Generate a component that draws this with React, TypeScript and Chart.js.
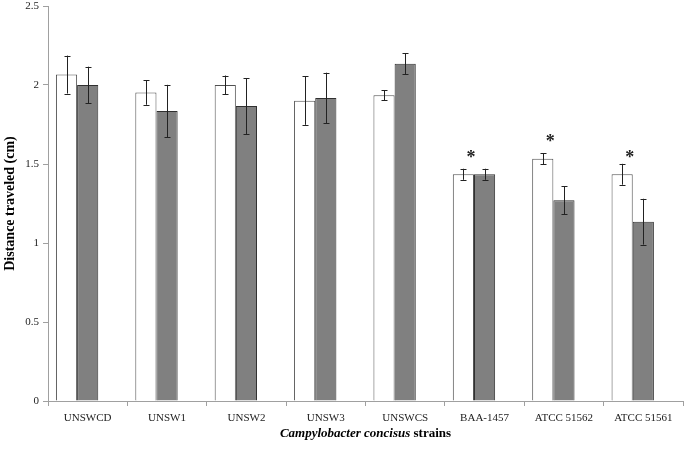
import React, { useEffect, useRef } from "react";
import { Chart, registerables } from "chart.js";

Chart.register(...registerables);

const categories = ["UNSWCD", "UNSW1", "UNSW2", "UNSW3", "UNSWCS", "BAA-1457", "ATCC 51562", "ATCC 51561"];
const whiteValues = [2.066, 1.952, 2.0, 1.901, 1.935, 1.435, 1.534, 1.435];
const whiteErrors = [0.12, 0.077, 0.06, 0.153, 0.033, 0.035, 0.034, 0.066];
const grayValues = [2.0, 1.835, 1.867, 1.918, 2.135, 1.435, 1.27, 1.135];
const grayErrors = [0.116, 0.166, 0.177, 0.16, 0.067, 0.035, 0.088, 0.145];
const emptyValues = [null, null, null, null, null, null, null, null];
const asteriskValues = [null, null, null, null, null, 1.56, 1.66, 1.56];
const yTicks = [0, 0.5, 1, 1.5, 2, 2.5];
const yTickLabels = ["0", "0.5", "1", "1.5", "2", "2.5"];
const yTitle = "Distance traveled (cm)";
const xTitleItalic = "Campylobacter concisus";
const xTitleRest = " strains";

const SERIF = "'Liberation Serif', 'Times New Roman', serif";

const errorBarPlugin = {
  id: "errorBars",
  afterDatasetsDraw(chart: any) {
    const ctx = chart.ctx;
    const y = chart.scales.y;
    const sets = [
      { idx: 0, vals: whiteValues, errs: whiteErrors },
      { idx: 1, vals: grayValues, errs: grayErrors },
    ];
    ctx.save();
    ctx.strokeStyle = "#222";
    ctx.lineWidth = 1;
    sets.forEach((s) => {
      const meta = chart.getDatasetMeta(s.idx);
      meta.data.forEach((bar: any, i: number) => {
        const v = s.vals[i];
        const e = s.errs[i];
        const x = Math.round(bar.x) + 0.5;
        const yt = y.getPixelForValue(v + e);
        const yb = y.getPixelForValue(v - e);
        ctx.beginPath();
        ctx.moveTo(x, yt);
        ctx.lineTo(x, yb);
        ctx.moveTo(x - 3, Math.round(yt) + 0.5);
        ctx.lineTo(x + 3, Math.round(yt) + 0.5);
        ctx.moveTo(x - 3, Math.round(yb) + 0.5);
        ctx.lineTo(x + 3, Math.round(yb) + 0.5);
        ctx.stroke();
      });
    });
    // asterisks
    const m0 = chart.getDatasetMeta(0);
    const m1 = chart.getDatasetMeta(1);
    ctx.fillStyle = "#222";
    ctx.font = "bold 18px " + SERIF;
    ctx.textAlign = "center";
    ctx.textBaseline = "middle";
    asteriskValues.forEach((v, i) => {
      if (v == null) return;
      const cx = (m0.data[i].x + m1.data[i].x) / 2 - 3;
      ctx.fillText("*", cx, y.getPixelForValue(v) + 4);
    });
    // x title
    const area = chart.chartArea;
    const fItal = "italic bold 13px " + SERIF;
    const fBold = "bold 13px " + SERIF;
    ctx.font = fItal;
    const w1 = ctx.measureText(xTitleItalic).width;
    ctx.font = fBold;
    const w2 = ctx.measureText(xTitleRest).width;
    const start = (area.left + area.right) / 2 - (w1 + w2) / 2;
    ctx.textAlign = "left";
    ctx.textBaseline = "middle";
    ctx.fillStyle = "#000";
    ctx.font = fItal;
    ctx.fillText(xTitleItalic, start, 434);
    ctx.font = fBold;
    ctx.fillText(xTitleRest, start + w1, 434);
    ctx.restore();
  },
};

export default function App() {
  const ref = useRef<HTMLCanvasElement>(null);
  useEffect(() => {
    if (!ref.current) return;
    const chart = new Chart(ref.current, {
      type: "bar",
      data: {
        labels: categories,
        datasets: [
          { data: whiteValues, backgroundColor: "#ffffff", borderColor: "#505050", borderWidth: 1 },
          { data: grayValues, backgroundColor: "#808080", borderColor: "#303030", borderWidth: 1 },
          { data: emptyValues as any, backgroundColor: "#ffffff", borderWidth: 0 },
        ],
      },
      options: {
        responsive: false,
        animation: false,
        layout: { padding: { top: 0, right: 2, left: 0, bottom: 0 } },
        plugins: { legend: { display: false }, tooltip: { enabled: false } },
        datasets: { bar: { categoryPercentage: 0.8, barPercentage: 1.0 } },
        scales: {
          x: {
            grid: { display: true, drawOnChartArea: false, drawTicks: true, tickLength: 5, color: "#a0a0a0" },
            border: { display: true, color: "#a0a0a0" },
            ticks: { color: "#222", font: { family: SERIF, size: 11 }, maxRotation: 0, autoSkip: false, padding: 6 },
            afterFit: (s: any) => { s.height = 49; },
          },
          y: {
            min: 0,
            max: 2.5,
            afterBuildTicks: (s: any) => { s.ticks = yTicks.map((v) => ({ value: v })); },
            grid: { display: true, drawOnChartArea: false, drawTicks: true, tickLength: 5, color: "#a0a0a0" },
            border: { display: true, color: "#a0a0a0" },
            ticks: {
              color: "#222",
              font: { family: SERIF, size: 11 },
              padding: 4,
              callback: (_v: any, i: number) => yTickLabels[i],
            },
            title: { display: true, text: yTitle, color: "#000", font: { family: SERIF, size: 14, weight: "bold" }, padding: { top: 2, bottom: 0 } },
            afterFit: (s: any) => { s.width = 48; s.paddingTop = 6; },
          },
        },
      },
      plugins: [errorBarPlugin],
    });
    return () => chart.destroy();
  }, []);
  return (
    <div style={{ position: "absolute", left: 0, top: 0, width: 685, height: 450, background: "#fff" }}>
      <canvas ref={ref} width={685} height={450} style={{ display: "block" }} />
    </div>
  );
}
